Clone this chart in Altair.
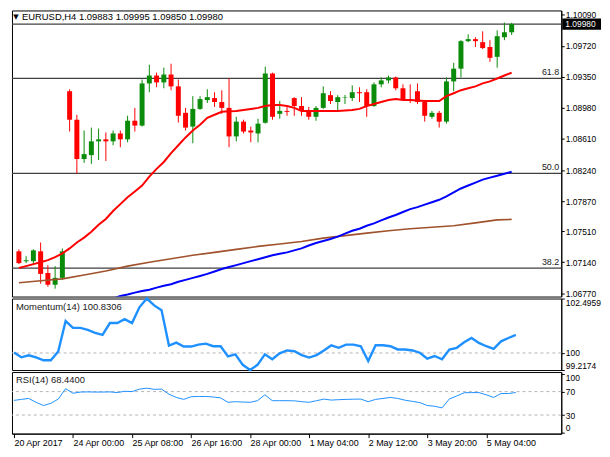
import altair as alt
import pandas as pd

FONT = "Liberation Sans"
GREEN = "#0a8c0a"
RED = "#ff0000"
BLUE = "#0000ff"
BROWN = "#a0522d"
IND = "#1e90ff"

header = "EURUSD,H4  1.09883 1.09995 1.09850 1.09980"
last_price = 1.09980

opens = [1.07270, 1.07153, 1.07153, 1.07270, 1.07012, 1.06872, 1.06954, 1.09180, 1.08840, 1.08371,
         1.08418, 1.08582, 1.08606, 1.08582, 1.08676, 1.08606, 1.08828, 1.08770, 1.09273, 1.09367,
         1.09285, 1.09379, 1.09238, 1.08922, 1.08758, 1.08969, 1.09074, 1.09098, 1.09051, 1.08981,
         1.08641, 1.08817, 1.08711, 1.08676, 1.08805, 1.09391, 1.08910, 1.08945, 1.09098, 1.09004,
         1.08945, 1.08875, 1.08981, 1.09133, 1.09051, 1.09104, 1.09098, 1.09168, 1.09168, 1.09004,
         1.09262, 1.09309, 1.09344, 1.09215, 1.09086, 1.09180, 1.09051, 1.08875, 1.08922, 1.08817,
         1.09297, 1.09449, 1.09777, 1.09801, 1.09765, 1.09707, 1.09590, 1.09824, 1.09883]
highs = [1.07294, 1.07212, 1.07294, 1.07376, 1.07106, 1.07094, 1.07305, 1.09203, 1.08899, 1.08711,
         1.08746, 1.08735, 1.08688, 1.08711, 1.08711, 1.08887, 1.08981, 1.09320, 1.09496, 1.09402,
         1.09461, 1.09508, 1.09320, 1.08981, 1.09121, 1.09121, 1.09203, 1.09168, 1.09191, 1.09332,
         1.08875, 1.08840, 1.08758, 1.08852, 1.09473, 1.09402, 1.09063, 1.09004, 1.09109, 1.09109,
         1.08992, 1.09004, 1.09238, 1.09180, 1.09133, 1.09136, 1.09250, 1.09227, 1.09203, 1.09285,
         1.09344, 1.09367, 1.09355, 1.09262, 1.09262, 1.09273, 1.09063, 1.08945, 1.08945, 1.09344,
         1.09519, 1.09789, 1.09859, 1.09824, 1.09894, 1.09789, 1.09906, 1.09999, 1.09995]
lows = [1.07118, 1.07130, 1.07106, 1.06884, 1.06848, 1.06825, 1.06930, 1.08699, 1.08196, 1.08325,
        1.08313, 1.08360, 1.08348, 1.08535, 1.08512, 1.08571, 1.08699, 1.08758, 1.09168, 1.09227,
        1.09215, 1.09191, 1.08805, 1.08711, 1.08559, 1.08957, 1.09039, 1.08992, 1.08910, 1.08512,
        1.08582, 1.08676, 1.08571, 1.08571, 1.08793, 1.08840, 1.08852, 1.08887, 1.08887, 1.08887,
        1.08840, 1.08828, 1.08969, 1.09027, 1.08945, 1.09027, 1.09063, 1.09051, 1.08875, 1.08992,
        1.09227, 1.09273, 1.09191, 1.09063, 1.09039, 1.09027, 1.08817, 1.08852, 1.08746, 1.08793,
        1.09180, 1.09344, 1.09765, 1.09707, 1.09683, 1.09531, 1.09461, 1.09789, 1.09850]
closes = [1.07130, 1.07165, 1.07282, 1.07001, 1.06872, 1.06954, 1.07270, 1.08840, 1.08371, 1.08430,
          1.08582, 1.08606, 1.08582, 1.08676, 1.08606, 1.08828, 1.08770, 1.09273, 1.09367, 1.09285,
          1.09379, 1.09238, 1.08887, 1.08746, 1.08969, 1.09086, 1.09109, 1.09051, 1.08981, 1.08641,
          1.08817, 1.08699, 1.08688, 1.08793, 1.09391, 1.08875, 1.08945, 1.08934, 1.09004, 1.08945,
          1.08875, 1.08981, 1.09156, 1.09063, 1.09109, 1.09109, 1.09168, 1.09156, 1.09004, 1.09262,
          1.09309, 1.09344, 1.09215, 1.09086, 1.09080, 1.09051, 1.08887, 1.08922, 1.08817, 1.09297,
          1.09449, 1.09777, 1.09801, 1.09777, 1.09695, 1.09578, 1.09836, 1.09883, 1.09980]

ma_red = [1.07071, 1.07094, 1.07118, 1.07141, 1.07165, 1.07200, 1.07247, 1.07305, 1.07376, 1.07434,
          1.07504, 1.07587, 1.07657, 1.07751, 1.07833, 1.07915, 1.07985, 1.08055, 1.08161, 1.08254,
          1.08336, 1.08442, 1.08535, 1.08629, 1.08711, 1.08781, 1.08863, 1.08899, 1.08934, 1.08940,
          1.08945, 1.08957, 1.08969, 1.08981, 1.09004, 1.09016, 1.09016, 1.09004, 1.08981, 1.08945,
          1.08945, 1.08945, 1.08945, 1.08945, 1.08945, 1.08951, 1.08957, 1.08969, 1.09004, 1.09027,
          1.09051, 1.09074, 1.09086, 1.09074, 1.09074, 1.09069, 1.09063, 1.09063, 1.09063, 1.09121,
          1.09156, 1.09192, 1.09215, 1.09238, 1.09274, 1.09297, 1.09332, 1.09367, 1.09402]

ma_blue_start = 13
ma_blue = [1.06708, 1.06737, 1.06755, 1.06778, 1.06796, 1.06813, 1.06837, 1.06860, 1.06878, 1.06907,
           1.06930, 1.06954, 1.06977, 1.07001, 1.07030, 1.07059, 1.07083, 1.07106, 1.07130, 1.07153,
           1.07176, 1.07200, 1.07223, 1.07241, 1.07258, 1.07282, 1.07305, 1.07340, 1.07370, 1.07393,
           1.07417, 1.07446, 1.07481, 1.07516, 1.07540, 1.07575, 1.07604, 1.07639, 1.07674, 1.07704,
           1.07739, 1.07774, 1.07797, 1.07827, 1.07856, 1.07885, 1.07926, 1.07973, 1.08020, 1.08055,
           1.08090, 1.08125, 1.08149, 1.08172, 1.08196, 1.08219]

ma_brown_idx = [0, 3, 6, 9, 12, 15, 18, 21, 24, 27, 30, 33, 36, 39, 42, 45, 48, 51, 54, 57, 60, 63, 66, 68]
ma_brown = [1.06895, 1.06919, 1.06942, 1.06989, 1.07036, 1.07094, 1.07141, 1.07182, 1.07223, 1.07258,
            1.07294, 1.07329, 1.07358, 1.07387, 1.07428, 1.07458, 1.07487, 1.07516, 1.07540, 1.07557,
            1.07575, 1.07610, 1.07645, 1.07651]

momentum = [100.026, 99.801, 99.891, 99.801, 99.667, 99.667, 100.071, 101.463, 101.149, 101.149,
            101.059, 100.924, 100.834, 101.373, 101.373, 101.553, 101.373, 102.092, 102.4959, 102.182,
            101.957, 100.340, 100.475, 100.295, 100.295, 100.385, 100.430, 100.309, 100.309, 99.846,
            99.936, 99.456, 99.2174, 99.456, 99.936, 99.712, 99.981, 100.116, 100.084, 99.905,
            99.788, 99.905, 100.116, 100.354, 100.237, 100.385, 100.385, 100.309, 99.635, 100.354,
            100.354, 100.309, 100.161, 100.161, 100.116, 100.012, 99.743, 99.860, 99.712, 100.161,
            100.237, 100.489, 100.686, 100.462, 100.309, 100.192, 100.533, 100.686, 100.8306]

rsi = [55.0, 56.7, 58.3, 51.7, 46.2, 50.0, 57.2, 75.0, 67.2, 69.2,
       69.5, 69.2, 69.2, 69.5, 68.3, 70.5, 70.0, 74.2, 75.8, 73.8,
       74.2, 65.5, 60.0, 56.7, 61.2, 61.7, 61.7, 60.8, 59.2, 51.7,
       52.8, 52.2, 51.7, 54.5, 64.5, 54.5, 54.5, 54.5, 54.2, 52.8,
       51.7, 54.5, 57.2, 55.5, 56.2, 56.7, 57.0, 57.2, 52.8, 56.7,
       58.3, 60.0, 58.3, 55.3, 53.3, 51.2, 46.2, 45.0, 42.2, 57.5,
       62.5, 68.0, 68.3, 68.3, 64.5, 60.0, 66.7, 66.7, 68.44]

tick_idx = [0, 8, 16, 24, 32, 40, 48, 56, 64]
tick_labels = ["20 Apr 2017", "24 Apr 00:00", "25 Apr 08:00", "26 Apr 16:00", "28 Apr 00:00",
               "1 May 04:00", "2 May 12:00", "3 May 20:00", "5 May 04:00"]

price_ticks = [1.10090, 1.09720, 1.09350, 1.08980, 1.08610, 1.08240, 1.07870, 1.07510, 1.07140, 1.06770]
fib_levels = [1.09332, 1.08200, 1.07070]
fib_labels = ["61.8", "50.0", "38.2"]

mom_ticks = [102.4959, 100, 99.2174]
rsi_ticks = [100, 70, 30, 0]
rsi_levels = [70, 30]

# ---------------------------------------------------------------
n = len(closes)
idx = list(range(n))
candles = pd.DataFrame({"idx": idx, "open": opens, "high": highs, "low": lows, "close": closes})
candles["dir"] = ["up" if c >= o else "down" for o, c in zip(opens, closes)]

red_df = pd.DataFrame({"idx": idx, "v": ma_red})
blue_df = pd.DataFrame({"idx": list(range(ma_blue_start, ma_blue_start + len(ma_blue))), "v": ma_blue})
brown_df = pd.DataFrame({"idx": ma_brown_idx, "v": ma_brown})
mom_df = pd.DataFrame({"idx": idx, "m": momentum})
rsi_df = pd.DataFrame({"idx": idx, "r": rsi})
fib_df = pd.DataFrame({"level": fib_levels, "label": fib_labels})
last_df = pd.DataFrame({"price": [last_price], "hi": [last_price + 0.00066],
                        "lo": [last_price - 0.00066], "label": [f"{last_price:.5f}"]})
one = pd.DataFrame({"a": [0]})

W = 553
X_DOMAIN = [-0.269, 74.16]


def xenc(axis=None):
    return alt.X("idx:Q", scale=alt.Scale(domain=X_DOMAIN, nice=False, zero=False), axis=axis)


price_scale = alt.Scale(domain=[1.06731, 1.10143], nice=False, zero=False)
price_axis = alt.Axis(orient="right", values=price_ticks, format=".5f", title=None, labelFlush=False)


def py(field):
    return alt.Y(f"{field}:Q", scale=price_scale, axis=price_axis)


color = alt.Color("dir:N", scale=alt.Scale(domain=["up", "down"], range=[GREEN, RED]), legend=None)

fib_rules = alt.Chart(fib_df).mark_rule(color="#404040", strokeWidth=1.3).encode(y=py("level"))
fib_text = alt.Chart(fib_df).mark_text(align="right", baseline="bottom", dy=-1, font=FONT,
                                       fontSize=9, color="#202020").encode(
    y=py("level"), x=alt.value(W - 2), text="label:N")
price_line = alt.Chart(last_df).mark_rule(color="#404040", strokeWidth=1.3).encode(y=py("price"))

wicks = alt.Chart(candles).mark_rule(strokeWidth=1).encode(x=xenc(), y=py("low"), y2="high:Q", color=color)
bodies = alt.Chart(candles).mark_bar(size=5).encode(x=xenc(), y=py("open"), y2="close:Q", color=color)

brown_line = alt.Chart(brown_df).mark_line(color=BROWN, strokeWidth=1.6, clip=True).encode(x=xenc(), y=py("v"))
blue_line = alt.Chart(blue_df).mark_line(color=BLUE, strokeWidth=2, clip=True).encode(x=xenc(), y=py("v"))
red_line = alt.Chart(red_df).mark_line(color=RED, strokeWidth=2, clip=True).encode(x=xenc(), y=py("v"))

tri = alt.Chart(one).mark_text(text="\u25bc", font="DejaVu Sans", fontSize=7, color="black",
                               align="center", baseline="middle").encode(x=alt.value(4), y=alt.value(6.5))
hdr = alt.Chart(one).mark_text(text=header, font=FONT, fontSize=9.5, color="black",
                               align="left", baseline="middle").encode(x=alt.value(10), y=alt.value(6.5))

price_box = alt.Chart(last_df).mark_rect(color="black").encode(
    y=py("hi"), y2="lo:Q", x=alt.value(W + 1), x2=alt.value(W + 40))
price_txt = alt.Chart(last_df).mark_text(align="left", baseline="middle", font=FONT, fontSize=8.5,
                                         color="white").encode(y=py("price"), x=alt.value(W + 4), text="label:N")

main = alt.layer(fib_rules, price_line, fib_text, wicks, bodies, brown_line, blue_line, red_line,
                 tri, hdr, price_box, price_txt).properties(width=W, height=288)

# Momentum panel
mom_scale = alt.Scale(domain=[99.2174, 102.4959], nice=False, zero=False)
mom_axis = alt.Axis(orient="right", values=mom_ticks, title=None, labelFlush=True,
                    labelExpr="datum.value == 100 ? '100' : format(datum.value, '.4f')")
mom_level = alt.Chart(pd.DataFrame({"m": [100]})).mark_rule(
    color="#b4b4b4", strokeDash=[3, 3], strokeWidth=1).encode(
    y=alt.Y("m:Q", scale=mom_scale, axis=mom_axis))
mom_line = alt.Chart(mom_df).mark_line(color=IND, strokeWidth=2.4).encode(
    x=xenc(), y=alt.Y("m:Q", scale=mom_scale, axis=mom_axis))
mom_title = alt.Chart(one).mark_text(text="Momentum(14) 100.8306", font=FONT, fontSize=9.5, color="#202020",
                                     align="left", baseline="middle").encode(x=alt.value(4), y=alt.value(8.5))
mom = alt.layer(mom_level, mom_line, mom_title).properties(width=W, height=72)

# RSI panel
rsi_scale = alt.Scale(domain=[-1.67, 103.33], nice=False, zero=False)
rsi_axis = alt.Axis(orient="right", values=rsi_ticks, title=None, labelFlush=4, format="d")
label_expr = ("[" + ",".join(f"'{s}'" for s in tick_labels) + "][indexof(["
              + ",".join(str(v) for v in tick_idx) + "], datum.value)]")
x_axis = alt.Axis(values=tick_idx, labelExpr=label_expr, labelAlign="left", labelFlush=False,
                  tickSize=4, labelPadding=1, title=None, labelFontSize=9)
rsi_levels_chart = alt.Chart(pd.DataFrame({"r": rsi_levels})).mark_rule(
    color="#b4b4b4", strokeDash=[3, 3], strokeWidth=1).encode(
    y=alt.Y("r:Q", scale=rsi_scale, axis=rsi_axis))
rsi_line = alt.Chart(rsi_df).mark_line(color=IND, strokeWidth=1).encode(
    x=xenc(x_axis), y=alt.Y("r:Q", scale=rsi_scale, axis=rsi_axis))
rsi_title = alt.Chart(one).mark_text(text="RSI(14) 68.4400", font=FONT, fontSize=9.5, color="#202020",
                                     align="left", baseline="middle").encode(x=alt.value(4), y=alt.value(8.5))
rsi_panel = alt.layer(rsi_levels_chart, rsi_line, rsi_title).properties(width=W, height=62)

chart = alt.vconcat(main, mom, rsi_panel, spacing=2, bounds="flush").properties(
    padding=0, background="white"
).configure_view(stroke="black", strokeWidth=1).configure_axis(
    labelFont=FONT, labelFontSize=8.5, labelColor="black", domainColor="black",
    tickColor="black", tickSize=3, labelPadding=1, grid=False, domainWidth=1, tickWidth=1
)

chart.save("out.html", embed_options={"renderer": "svg", "actions": False})
